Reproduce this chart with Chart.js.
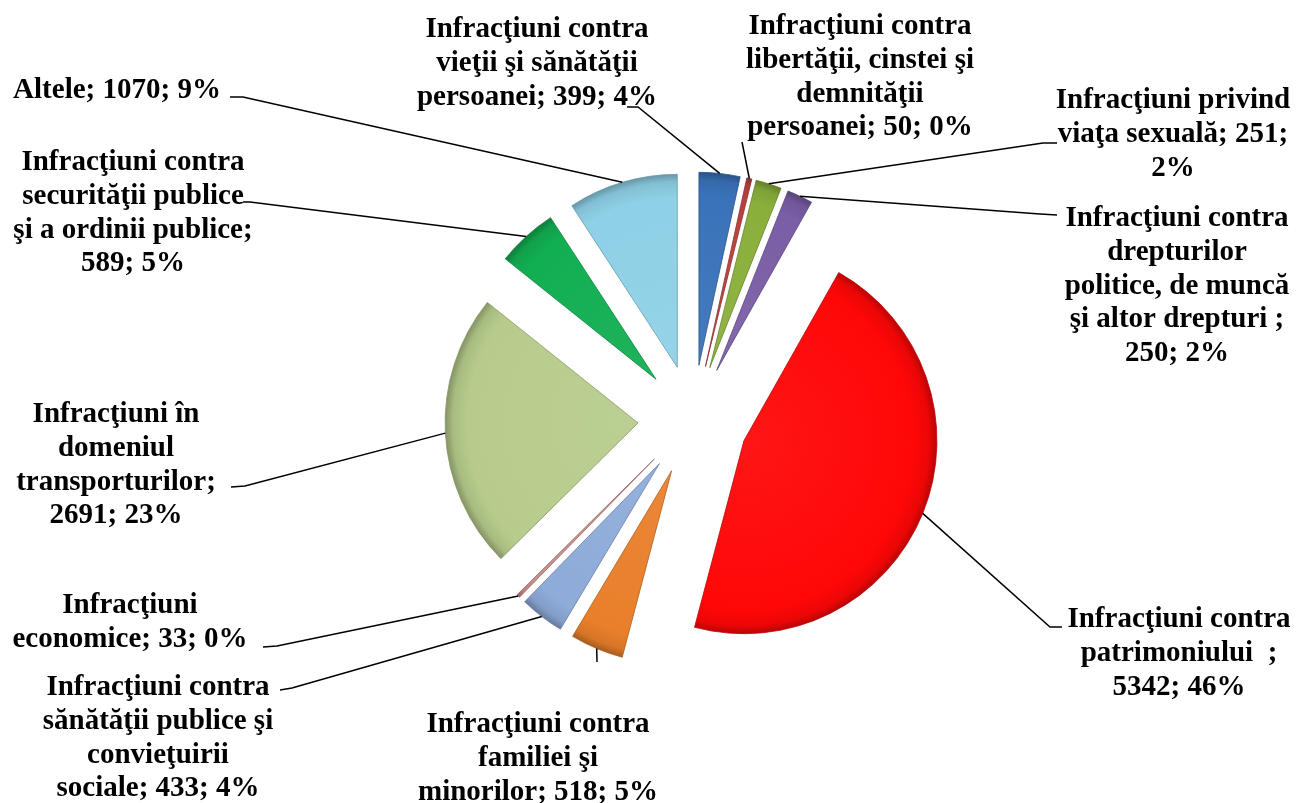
<!DOCTYPE html>
<html>
<head>
<meta charset="utf-8">
<script src="https://cdn.jsdelivr.net/npm/chart.js@4.4.0/dist/chart.umd.min.js"></script>
<style>
  html, body { margin: 0; padding: 0; background: #ffffff; }
  #wrap { width: 1297px; height: 803px; }
</style>
</head>
<body>
<div id="wrap"><canvas id="c" width="1297" height="803"></canvas></div>
<script>
// ---- data ----
const categories = [
  "Infracţiuni contra vieţii şi sănătăţii persoanei",
  "Infracţiuni contra libertăţii, cinstei şi demnităţii persoanei",
  "Infracţiuni privind viaţa sexuală",
  "Infracţiuni contra drepturilor politice, de muncă şi altor drepturi ",
  "Infracţiuni contra patrimoniului  ",
  "Infracţiuni contra familiei şi minorilor",
  "Infracţiuni contra sănătăţii publice şi convieţuirii sociale",
  "Infracţiuni economice",
  "Infracţiuni în domeniul transporturilor",
  "Infracţiuni contra securităţii publice şi a ordinii publice",
  "Altele"
];
const values = [399, 50, 251, 250, 5342, 518, 433, 33, 2691, 589, 1070];
const percents = [4, 0, 2, 2, 46, 5, 4, 0, 23, 5, 9];

// ---- styling / layout ----
const colors = ["#3a72b9", "#b9413d", "#8aaf3b", "#7a5ea6", "#ff0707", "#e97f2b",
                "#8eabd9", "#c98e8b", "#b7cc8c", "#12ae52", "#8ed0e6"];
const EXPLODE = 55;
const RADIUS = 193;
const FONT = "bold 29px 'Liberation Serif', 'Times New Roman', serif";
const LINE_H = 33.8;
// label boxes: centre x, first baseline, wrap width, leader elbow points (toward label)
const labelLayout = [
  {cx: 537,  y: 37,  w: 255, pts: [[638,107],[627,107]]},
  {cx: 860,  y: 34,  w: 235, pts: [[742,142]]},
  {cx: 1173, y: 108, w: 240, pts: [[1043,143],[1057,143]]},
  {cx: 1177, y: 226, w: 235, pts: [[1040,214],[1057,215]]},
  {cx: 1179, y: 627, w: 235, pts: [[1050,627],[1062,627]]},
  {cx: 538,  y: 732, w: 255, pts: [[597,662]]},
  {cx: 158,  y: 695, w: 240, pts: [[292,688],[280,690]]},
  {cx: 130,  y: 613, w: 240, pts: [[277,646],[263,647]]},
  {cx: 116,  y: 422, w: 220, pts: [[245,486],[231,487]]},
  {cx: 133,  y: 170, w: 245, pts: [[250,202],[243,202]]},
  {cx: 117,  y: 98,  w: 250, pts: [[243,97],[230,97]]}
];

function shade(hex, f) {
  const n = parseInt(hex.slice(1), 16);
  let r = (n >> 16) & 255, g = (n >> 8) & 255, b = n & 255;
  if (f < 0) { r = r * (1 + f); g = g * (1 + f); b = b * (1 + f); }
  else { r = r + (255 - r) * f; g = g + (255 - g) * f; b = b + (255 - b) * f; }
  return `rgb(${Math.round(r)},${Math.round(g)},${Math.round(b)})`;
}

function fillFor(c) {
  const base = colors[c.dataIndex];
  const area = c.chart.chartArea;
  if (!area) return base;
  const cx = (area.left + area.right) / 2, cy = (area.top + area.bottom) / 2;
  const g = c.chart.ctx.createRadialGradient(cx, cy, 0, cx, cy, RADIUS);
  g.addColorStop(0, shade(base, 0.06));
  g.addColorStop(0.88, base);
  g.addColorStop(0.96, shade(base, -0.08));
  g.addColorStop(1, shade(base, -0.28));
  return g;
}

function wrap(ctx, text, maxW) {
  const tokens = text.split(' ');
  const lines = [];
  let line = tokens[0];
  for (let i = 1; i < tokens.length; i++) {
    const test = line + ' ' + tokens[i];
    if (ctx.measureText(test).width <= maxW) line = test;
    else { lines.push(line); line = tokens[i]; }
  }
  lines.push(line);
  return lines;
}

const explodePlugin = {
  id: 'explode',
  beforeDatasetDraw(chart, args) {
    const ctx = chart.ctx;
    args.meta.data.forEach((arc) => {
      const mid = (arc.startAngle + arc.endAngle) / 2;
      ctx.save();
      ctx.translate(Math.cos(mid) * EXPLODE, Math.sin(mid) * EXPLODE);
      arc.draw(ctx);
      ctx.restore();
    });
    return false;
  }
};

const labelPlugin = {
  id: 'outerLabels',
  afterDatasetsDraw(chart) {
    const ctx = chart.ctx;
    const meta = chart.getDatasetMeta(0);
    ctx.save();
    ctx.font = FONT;
    ctx.fillStyle = '#000';
    ctx.strokeStyle = '#000';
    ctx.lineWidth = 1.5;
    ctx.textAlign = 'center';
    ctx.textBaseline = 'alphabetic';
    meta.data.forEach((arc, i) => {
      const L = labelLayout[i];
      const mid = (arc.startAngle + arc.endAngle) / 2;
      const r = arc.outerRadius + EXPLODE;
      const ax = arc.x + Math.cos(mid) * r, ay = arc.y + Math.sin(mid) * r;
      ctx.beginPath();
      ctx.moveTo(ax, ay);
      L.pts.forEach(p => ctx.lineTo(p[0], p[1]));
      ctx.stroke();
      const text = `${categories[i]}; ${values[i]}; ${percents[i]}%`;
      const lines = wrap(ctx, text, L.w);
      lines.forEach((ln, k) => ctx.fillText(ln, L.cx, L.y + k * LINE_H));
    });
    ctx.restore();
  }
};

new Chart(document.getElementById('c'), {
  type: 'pie',
  data: {
    labels: categories,
    datasets: [{
      data: values,
      backgroundColor: fillFor,
      borderColor: colors.map(c => shade(c, -0.25)),
      borderWidth: 0.8
    }]
  },
  options: {
    responsive: false,
    animation: false,
    radius: RADIUS,
    layout: { padding: { left: 189, right: 100, top: 137, bottom: 100 } },
    plugins: { legend: { display: false }, tooltip: { enabled: false } },
    events: []
  },
  plugins: [explodePlugin, labelPlugin]
});
</script>
</body>
</html>
